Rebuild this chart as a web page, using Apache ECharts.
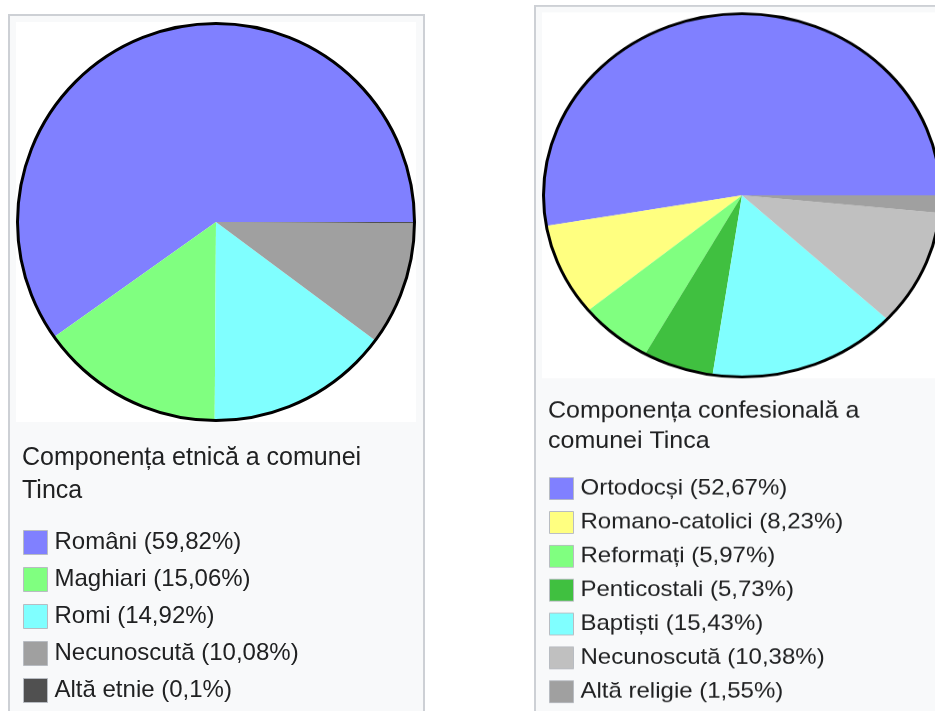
<!DOCTYPE html>
<html>
<head>
<meta charset="utf-8">
<script src="https://cdn.jsdelivr.net/npm/echarts@6/dist/echarts.min.js"></script>
<style>
  html, body { margin: 0; padding: 0; background: #fff; overflow: hidden; width: 935px; height: 711px; }
  .panel { position: absolute; width: 420px; height: 800px; }
  #etnic { left: 8px; top: 14px; }
  #confesional { left: 534px; top: 5px; transform: scaleY(0.915); transform-origin: 0 0; }
</style>
</head>
<body>
<div id="etnic" class="panel"></div>
<div id="confesional" class="panel"></div>
<script>
// componenta etnica
const etnicNames = ['Români', 'Maghiari', 'Romi', 'Necunoscută', 'Altă etnie'];
const etnicValues = [59.82, 15.06, 14.92, 10.08, 0.1];
const etnicColors = ['#8080ff', '#80ff80', '#80ffff', '#a0a0a0', '#505050'];

// componenta confesionala
const confNames = ['Ortodocși', 'Romano-catolici', 'Reformați', 'Penticostali', 'Baptiști', 'Necunoscută', 'Altă religie'];
const confValues = [52.67, 8.23, 5.97, 5.73, 15.43, 10.38, 1.55];
const confColors = ['#8080ff', '#ffff80', '#80ff80', '#40c040', '#80ffff', '#c0c0c0', '#a0a0a0'];

const font = '"Liberation Sans", Arial, sans-serif';

const fmt = (v) => String(v).replace('.', ',');

const buildPanel = (el, caption, names, values, colors) => {
  const chart = echarts.init(el, null, {width: 420, height: 800});
  const data = names.map((n, i) => ({name: n, value: values[i], itemStyle: {color: colors[i]}}));
  const option = {
    animation: false,
    graphic: [
      {
        type: 'rect', z: -10,
        shape: {x: 1, y: 1, width: 415, height: 790},
        style: {fill: '#f8f9fa', stroke: '#cdd0d5', lineWidth: 2}
      },
      {
        type: 'rect', z: -9,
        shape: {x: 8, y: 8, width: 400, height: 400},
        style: {fill: '#ffffff'}
      }
    ],
    title: {
      text: caption,
      left: 14,
      top: 428,
      padding: 0,
      textStyle: {fontFamily: font, fontSize: 25, fontWeight: 'normal', lineHeight: 33, color: '#202122'}
    },
    legend: {
      orient: 'vertical',
      left: 15,
      top: 516,
      padding: 0,
      icon: 'rect',
      itemWidth: 24,
      itemHeight: 24,
      itemGap: 12,
      selectedMode: false,
      data: names,
      itemStyle: {borderColor: '#b8bcc2', borderWidth: 1},
      textStyle: {fontFamily: font, fontSize: 24, lineHeight: 24, color: '#202122', padding: [0, 0, 0, 2]},
      formatter: (name) => name + ' (' + fmt(values[names.indexOf(name)]) + '%)'
    },
    series: [
      {
        type: 'pie',
        center: [208, 208],
        radius: 199,
        startAngle: 0,
        clockwise: false,
        silent: true,
        label: {show: false},
        labelLine: {show: false},
        itemStyle: {borderWidth: 0},
        data: data
      },
      {
        // contur negru
        type: 'pie',
        center: [208, 208],
        radius: 198.5,
        silent: true,
        legendHoverLink: false,
        label: {show: false},
        labelLine: {show: false},
        itemStyle: {color: 'rgba(0,0,0,0)', borderColor: '#000', borderWidth: 3},
        data: [{name: 'contur', value: 1}]
      }
    ]
  };
  chart.setOption(option);
};

buildPanel(document.getElementById('etnic'), 'Componența etnică a comunei\nTinca', etnicNames, etnicValues, etnicColors);
buildPanel(document.getElementById('confesional'), 'Componența confesională a\ncomunei Tinca', confNames, confValues, confColors);
</script>
</body>
</html>
